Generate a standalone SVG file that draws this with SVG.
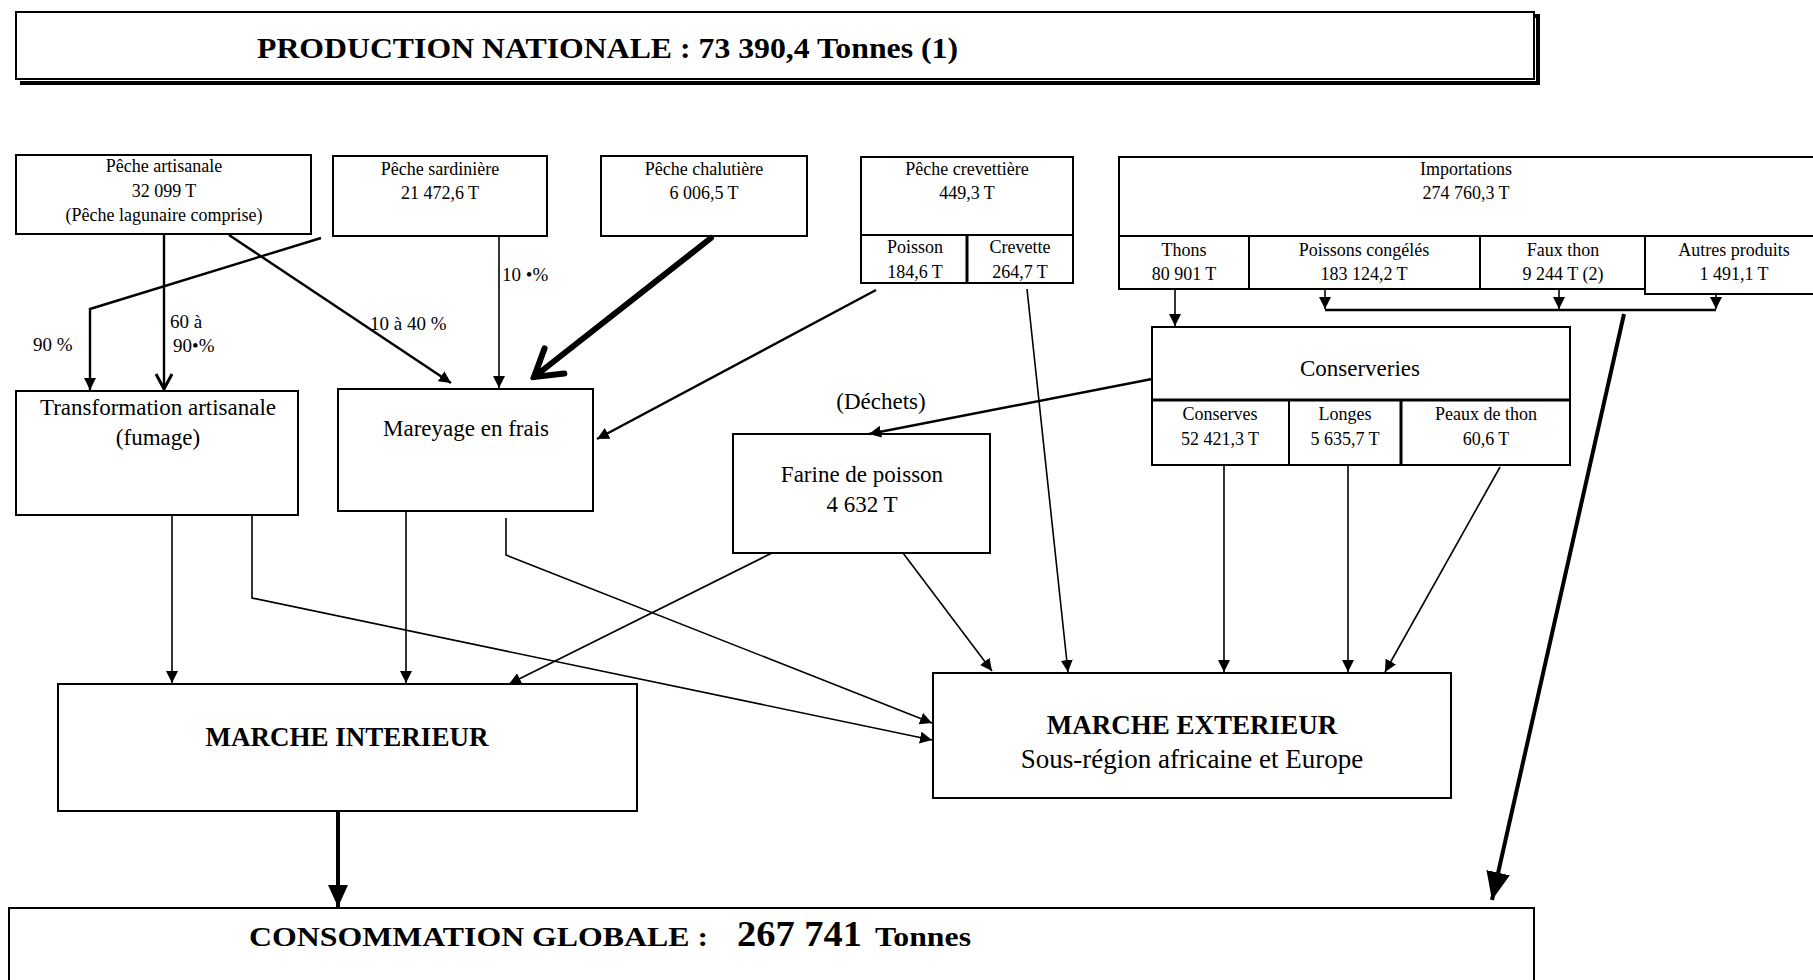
<svg xmlns="http://www.w3.org/2000/svg" width="1813" height="980" viewBox="0 0 1813 980">
<defs>
<style>
.b{fill:#fff;stroke:#000;stroke-width:2}
.t{font-family:"Liberation Serif","Times New Roman",serif;fill:#000;text-anchor:middle}
.s{font-size:18px}
.m{font-size:23px}
.bd{font-weight:bold}
.l{fill:none;stroke:#000;stroke-width:1.6}
.l2{fill:none;stroke:#000;stroke-width:2.4}
.lab{font-family:"Liberation Serif","Times New Roman",serif;font-size:19px;fill:#000}
</style>
<marker id="a" markerUnits="userSpaceOnUse" markerWidth="12" markerHeight="12" refX="12" refY="6" orient="auto"><path d="M0,0 L12,6 L0,12 z" fill="#000"/></marker>
<marker id="a2" markerUnits="userSpaceOnUse" markerWidth="24" markerHeight="20" refX="22" refY="10" orient="auto"><path d="M0,0 L22,10 L0,20 z" fill="#000"/></marker>
<marker id="o" markerUnits="userSpaceOnUse" markerWidth="20" markerHeight="20" refX="17" refY="10" orient="auto"><path d="M2,2 L17,10 L2,18" fill="none" stroke="#000" stroke-width="3"/></marker>
<marker id="o2" markerUnits="userSpaceOnUse" markerWidth="34" markerHeight="40" refX="30" refY="20" orient="auto"><path d="M4,4 L30,20 L4,36" fill="none" stroke="#000" stroke-width="6" stroke-linecap="round"/></marker>
<marker id="a3" markerUnits="userSpaceOnUse" markerWidth="30" markerHeight="24" refX="28" refY="12" orient="auto"><path d="M0,0 L28,12 L0,24 z" fill="#000"/></marker>
</defs>

<g id="production">
<path d="M20,16 L1538,16 L1538,83 L20,83" fill="none" stroke="#000" stroke-width="4"/>
<rect class="b" x="16" y="12" width="1518" height="67"/>
<text x="257" y="58" font-family="Liberation Serif, Times New Roman, serif" font-weight="bold" font-size="30" textLength="701" lengthAdjust="spacingAndGlyphs" fill="#000">PRODUCTION NATIONALE : 73 390,4 Tonnes (1)</text>
</g>

<g id="peche-artisanale">
<rect class="b" x="16" y="155" width="295" height="79"/>
<text class="t s" x="164" y="172">Pêche artisanale</text>
<text class="t s" x="164" y="197">32 099  T</text>
<text class="t s" x="164" y="221">(Pêche lagunaire  comprise)</text>
</g>

<g id="peche-sardiniere">
<rect class="b" x="333" y="156" width="214" height="80"/>
<text class="t s" x="440" y="175">Pêche sardinière</text>
<text class="t s" x="440" y="199">21 472,6 T</text>
</g>

<g id="peche-chalutiere">
<rect class="b" x="601" y="156" width="206" height="80"/>
<text class="t s" x="704" y="175">Pêche chalutière</text>
<text class="t s" x="704" y="199">6 006,5  T</text>
</g>

<g id="peche-crevettiere">
<rect class="b" x="861" y="157" width="212" height="126"/>
<line x1="861" y1="235" x2="1073" y2="235" stroke="#000" stroke-width="2"/>
<line x1="967" y1="235" x2="967" y2="283" stroke="#000" stroke-width="3"/>
<text class="t s" x="967" y="175">Pêche crevettière</text>
<text class="t s" x="967" y="199">449,3 T</text>
<text class="t s" x="915" y="253">Poisson</text>
<text class="t s" x="915" y="278">184,6 T</text>
<text class="t s" x="1020" y="253">Crevette</text>
<text class="t s" x="1020" y="278">264,7 T</text>
</g>

<g id="importations">
<rect class="b" x="1119" y="157" width="710" height="132"/>
<line x1="1119" y1="236" x2="1813" y2="236" stroke="#000" stroke-width="2"/>
<line x1="1249" y1="236" x2="1249" y2="289" stroke="#000" stroke-width="2"/>
<line x1="1480" y1="236" x2="1480" y2="289" stroke="#000" stroke-width="2"/>
<rect class="b" x="1645" y="236" width="180" height="58"/>
<text class="t s" x="1466" y="175">Importations</text>
<text class="t s" x="1466" y="199">274 760,3 T</text>
<text class="t s" x="1184" y="256">Thons</text>
<text class="t s" x="1184" y="280">80 901 T</text>
<text class="t s" x="1364" y="256">Poissons congélés</text>
<text class="t s" x="1364" y="280">183 124,2 T</text>
<text class="t s" x="1563" y="256">Faux thon</text>
<text class="t s" x="1563" y="280">9 244 T (2)</text>
<text class="t s" x="1734" y="256">Autres produits</text>
<text class="t s" x="1734" y="280">1 491,1 T</text>
</g>

<g id="transformation">
<rect class="b" x="16" y="391" width="282" height="124"/>
<text class="t m" x="158" y="415">Transformation artisanale</text>
<text class="t m" x="158" y="445">(fumage)</text>
</g>

<g id="mareyage">
<rect class="b" x="338" y="389" width="255" height="122"/>
<text class="t m" x="466" y="436">Mareyage en frais</text>
</g>

<g id="conserveries">
<rect class="b" x="1152" y="327" width="418" height="138"/>
<line x1="1152" y1="400" x2="1570" y2="400" stroke="#000" stroke-width="3"/>
<line x1="1289" y1="400" x2="1289" y2="465" stroke="#000" stroke-width="2"/>
<line x1="1401" y1="400" x2="1401" y2="465" stroke="#000" stroke-width="3"/>
<text class="t m" x="1360" y="376">Conserveries</text>
<text class="t s" x="1220" y="420">Conserves</text>
<text class="t s" x="1220" y="445">52 421,3 T</text>
<text class="t s" x="1345" y="420">Longes</text>
<text class="t s" x="1345" y="445">5 635,7 T</text>
<text class="t s" x="1486" y="420">Peaux de thon</text>
<text class="t s" x="1486" y="445">60,6 T</text>
</g>

<g id="farine">
<rect class="b" x="733" y="434" width="257" height="119"/>
<text class="t m" x="862" y="482">Farine de poisson</text>
<text class="t m" x="862" y="512">4 632 T</text>
</g>

<g id="marche-interieur">
<rect class="b" x="58" y="684" width="579" height="127"/>
<text class="t bd" x="347" y="746" font-size="27">MARCHE INTERIEUR</text>
</g>

<g id="marche-exterieur">
<rect class="b" x="933" y="673" width="518" height="125"/>
<text class="t bd" x="1192" y="734" font-size="27">MARCHE EXTERIEUR</text>
<text class="t" x="1192" y="768" font-size="27">Sous-région africaine et Europe</text>
</g>

<g id="consommation">
<path d="M9,990 L9,908 L1534,908 L1534,990" class="b"/>
<text x="249" y="946" font-family="Liberation Serif, Times New Roman, serif" font-weight="bold" font-size="28" textLength="459" lengthAdjust="spacingAndGlyphs" fill="#000">CONSOMMATION GLOBALE :</text>
<text x="737" y="946" font-family="Liberation Serif, Times New Roman, serif" font-weight="bold" font-size="35" textLength="125" lengthAdjust="spacingAndGlyphs" fill="#000">267 741</text>
<text x="875" y="946" font-family="Liberation Serif, Times New Roman, serif" font-weight="bold" font-size="28" textLength="96" lengthAdjust="spacingAndGlyphs" fill="#000">Tonnes</text>
</g>

<g id="connectors">
<line class="l2" x1="164" y1="234" x2="164" y2="389" marker-end="url(#o)"/>
<polyline class="l2" points="229,235 451,383" marker-end="url(#a)"/>
<polyline class="l2" points="321,238 90,309 90,390" marker-end="url(#a)"/>
<line class="l" x1="499" y1="236" x2="499" y2="388" marker-end="url(#a)"/>
<line x1="711" y1="238" x2="534" y2="377" stroke="#000" stroke-width="6" stroke-linecap="round" marker-end="url(#o2)"/>
<line class="l2" x1="876" y1="290" x2="597" y2="439" marker-end="url(#a)"/>
<line class="l" x1="1027" y1="289" x2="1068" y2="672" marker-end="url(#a)"/>
<line class="l2" x1="1152" y1="379" x2="869" y2="434" marker-end="url(#a)"/>
<line class="l" x1="1175" y1="289" x2="1175" y2="326" marker-end="url(#a)"/>
<line class="l2" x1="1325" y1="310" x2="1716" y2="310"/>
<line class="l" x1="1325" y1="289" x2="1325" y2="309" marker-end="url(#a)"/>
<line class="l" x1="1559" y1="289" x2="1559" y2="309" marker-end="url(#a)"/>
<line class="l" x1="1716" y1="294" x2="1716" y2="309" marker-end="url(#a)"/>
<line class="l" x1="1224" y1="465" x2="1224" y2="672" marker-end="url(#a)"/>
<line class="l" x1="1348" y1="465" x2="1348" y2="672" marker-end="url(#a)"/>
<line class="l" x1="1500" y1="467" x2="1385" y2="672" marker-end="url(#a)"/>
<line class="l" x1="903" y1="553" x2="992" y2="671" marker-end="url(#a)"/>
<line class="l" x1="772" y1="553" x2="509" y2="684" marker-end="url(#a)"/>
<line class="l" x1="172" y1="515" x2="172" y2="683" marker-end="url(#a)"/>
<polyline class="l" points="252,515 252,598 932,740" marker-end="url(#a)"/>
<line class="l" x1="406" y1="511" x2="406" y2="683" marker-end="url(#a)"/>
<polyline class="l" points="506,518 506,555 932,723" marker-end="url(#a)"/>
<line x1="338" y1="811" x2="338" y2="907" stroke="#000" stroke-width="4" marker-end="url(#a2)"/>
<line x1="1624" y1="314" x2="1492" y2="900" stroke="#000" stroke-width="4" marker-end="url(#a3)"/>
</g>

<g id="labels">
<text class="lab" x="170" y="328">60 à</text>
<text class="lab" x="173" y="352">90•%</text>
<text class="lab" x="33" y="351">90 %</text>
<text class="lab" x="370" y="330">10 à 40 %</text>
<text class="lab" x="502" y="281">10 •%</text>
<text class="t m" x="881" y="409">(Déchets)</text>
</g>
</svg>
